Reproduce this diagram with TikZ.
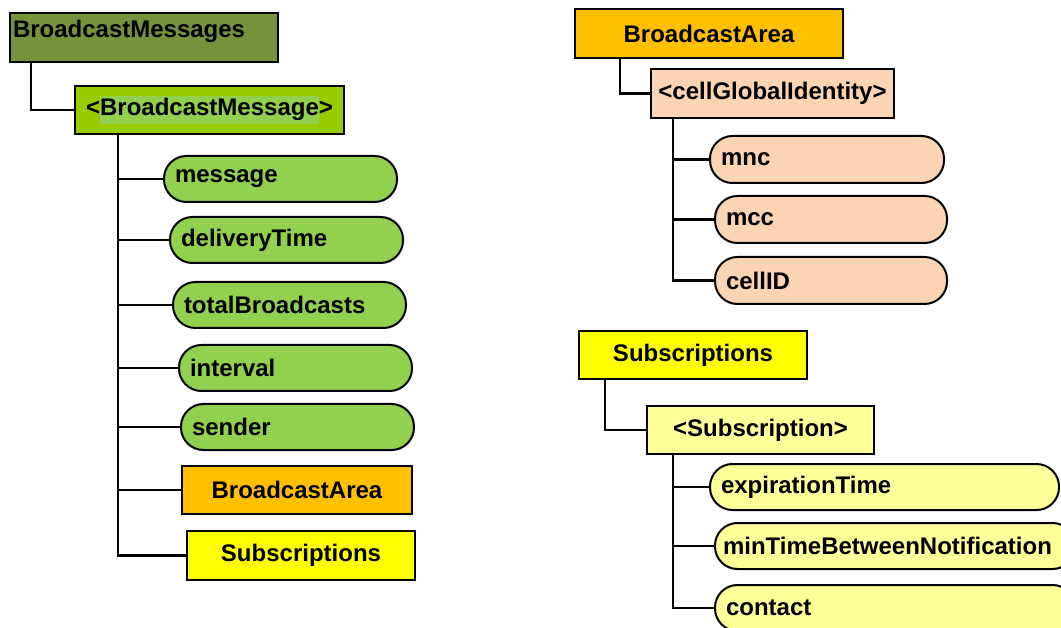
\documentclass[tikz,border=0pt]{standalone}
\usepackage{fontspec}
\setmainfont{Liberation Sans}
\usepackage{xcolor}
\usepackage{tikz}
\usetikzlibrary{positioning,calc}

\definecolor{olivebox}{HTML}{76923C}
\definecolor{limebox}{HTML}{99CC00}
\definecolor{leafgreen}{HTML}{92D050}
\definecolor{areabox}{HTML}{FFC000}
\definecolor{subsbox}{HTML}{FFFF00}
\definecolor{peach}{HTML}{FBD4B4}
\definecolor{paleyellow}{HTML}{FFFF99}

\begin{document}
\begin{tikzpicture}[
  x=1pt, y=-1pt,
  font=\fontsize{24}{28}\selectfont\bfseries,
  box/.style={draw, line width=2pt, anchor=north west, align=center, inner sep=0pt},
  leaf/.style={draw, line width=2pt, anchor=north west, rounded corners=22.5pt,
    align=left, inner xsep=11pt, inner ysep=0pt, minimum height=46pt, text width=#1},
  link/.style={line width=2.2pt}
]
\useasboundingbox (0,0) rectangle (1061,628);
\clip (0,0) rectangle (1061,628);

% Left tree: BroadcastMessages
\node[box, fill=olivebox, minimum width=268pt, minimum height=49pt, align=left,
  text width=262pt, text height=17pt, text depth=17pt, inner ysep=7.5pt] (bmsgs) at (9,12)
  {BroadcastMessages};
\node[box, fill=limebox, minimum width=269pt, minimum height=48pt] (bmsg) at (74,85)
  {<{\fboxsep=0pt\colorbox{leafgreen}{\strut BroadcastMessage}}>};

\node[leaf=211pt, fill=leafgreen] (msg) at (163,155) {message};
\node[leaf=211pt, fill=leafgreen] (dtime) at (169,216) {deliveryTime};
\node[leaf=211pt, fill=leafgreen] (total) at (172,281) {totalBroadcasts};
\node[leaf=211pt, fill=leafgreen] (intv) at (178,344) {interval};
\node[leaf=211pt, fill=leafgreen] (sndr) at (180,403) {sender};
\node[box, fill=areabox, minimum width=230pt, minimum height=48pt] (barea) at (181,465) {BroadcastArea};
\node[box, fill=subsbox, minimum width=228pt, minimum height=49pt] (bsubs) at (186,530) {Subscriptions};

\coordinate (ltrunk) at ([xshift=44pt]bmsg.south west);
\draw[link] ([xshift=22pt]bmsgs.south west) |- (bmsg.west);
\draw[link] (ltrunk) |- (bsubs.west);
\foreach \n in {msg,dtime,total,intv,sndr,barea}
  \draw[link] (ltrunk |- \n.west) -- (\n.west);

% Right tree: BroadcastArea
\node[box, fill=areabox, minimum width=268pt, minimum height=49pt] (area) at (574,8) {BroadcastArea};
\node[box, fill=peach, minimum width=243pt, minimum height=49pt] (cgi) at (650,68) {<cellGlobalIdentity>};
\node[leaf=212pt, fill=peach, minimum height=47pt] (mnc) at (709,135) {mnc};
\node[leaf=210pt, fill=peach, minimum height=47pt] (mcc) at (714,195) {mcc};
\node[leaf=210pt, fill=peach, minimum height=47pt] (cid) at (714,256) {cellID};

\coordinate (atrunk) at ([xshift=23pt]cgi.south west);
\draw[link] ([xshift=46pt]area.south west) |- (cgi.west);
\draw[link] (atrunk) |- (cid.west);
\foreach \n in {mnc,mcc}
  \draw[link] (atrunk |- \n.west) -- (\n.west);

% Right tree: Subscriptions
\node[box, fill=subsbox, minimum width=228pt, minimum height=48pt] (subs) at (578,330) {Subscriptions};
\node[box, fill=paleyellow, minimum width=227pt, minimum height=48pt] (sub) at (646,405) {<Subscription>};
\node[leaf=327pt, fill=paleyellow] (expt) at (709,463) {expirationTime};
\node[leaf=344pt, fill=paleyellow, inner xsep=8pt] (mintb) at (714,522) {minTimeBetweenNotification};
\node[leaf=338pt, fill=paleyellow] (cntct) at (714,584) {contact};

\coordinate (strunk) at ([xshift=27pt]sub.south west);
\draw[link] ([xshift=27pt]subs.south west) |- (sub.west);
\draw[link] (strunk) |- (cntct.west);
\foreach \n in {expt,mintb}
  \draw[link] (strunk |- \n.west) -- (\n.west);

\end{tikzpicture}
\end{document}
